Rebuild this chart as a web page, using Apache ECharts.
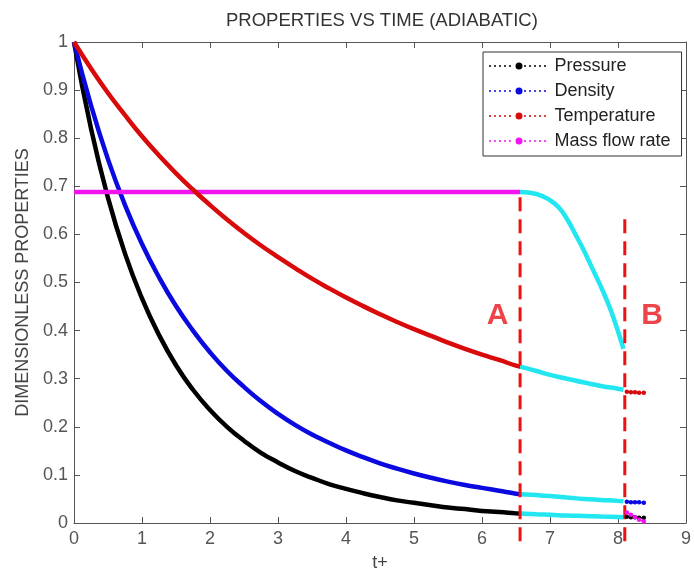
<!DOCTYPE html>
<html>
<head>
<meta charset="utf-8">
<script src="https://cdn.jsdelivr.net/npm/echarts@6/dist/echarts.min.js"></script>
<style>
html,body{margin:0;padding:0;background:#fff;}
#chart{width:694px;height:577px;}
</style>
</head>
<body>
<div id="chart"></div>
<script>
// ---- data ----
const xTicks = [0,1,2,3,4,5,6,7,8,9];
const yTicks = [0,0.1,0.2,0.3,0.4,0.5,0.6,0.7,0.8,0.9,1];

// phase 1 (choked, until A)
const tPhase1 = [0,0.25,0.5,0.75,1,1.25,1.5,1.75,2,2.25,2.5,2.75,3,3.25,3.5,3.75,4,4.25,4.5,4.75,5,5.25,5.5,5.75,6,6.25,6.5,6.56];
const pressure1 = [1,0.820,0.676,0.560,0.467,0.391,0.328,0.277,0.235,0.200,0.171,0.146,0.126,0.108,0.094,0.081,0.071,0.062,0.054,0.047,0.042,0.037,0.032,0.029,0.025,0.023,0.020,0.0196];
const density1 = [1,0.868,0.756,0.661,0.580,0.511,0.451,0.400,0.355,0.316,0.283,0.253,0.227,0.204,0.184,0.167,0.151,0.137,0.124,0.113,0.103,0.094,0.086,0.079,0.073,0.067,0.061,0.060];
const temperature1 = [1,0.945,0.894,0.848,0.804,0.764,0.727,0.693,0.661,0.631,0.603,0.577,0.553,0.530,0.508,0.488,0.469,0.451,0.434,0.418,0.403,0.389,0.375,0.362,0.350,0.339,0.327,0.325];
const tMassFlow1 = [0,6.56];
const massFlow1 = [0.688,0.688];

// phase 2 (A to B, cyan)
const tPhase2 = [6.56,6.8,7.0,7.25,7.5,7.75,8.0,8.08];
const pressure2 = [0.0196,0.018,0.017,0.0155,0.0145,0.0135,0.0125,0.012];
const density2 = [0.060,0.058,0.056,0.053,0.050,0.048,0.046,0.045];
const temperature2 = [0.325,0.316,0.308,0.300,0.292,0.285,0.279,0.277];
const tMassFlow2 = [6.56,6.8,7.0,7.13,7.25,7.37,7.5,7.61,7.73,7.85,7.95,8.05,8.08];
const massFlow2 = [0.688,0.684,0.671,0.656,0.632,0.601,0.566,0.533,0.497,0.458,0.42,0.376,0.362];

// phase 3 (after B)
const tPhase3 = [8.13,8.19,8.25,8.31,8.38];
const pressure3 = [0.013,0.012,0.012,0.011,0.011];
const density3 = [0.044,0.043,0.043,0.043,0.042];
const temperature3 = [0.273,0.272,0.272,0.271,0.271];
const massFlow3 = [0.022,0.017,0.012,0.007,0.003];

// annotations
const lineA = {t:6.56, from:-0.038, to:0.69};
const lineB = {t:8.10, from:-0.038, to:0.645};
const labelA = {t:6.23, v:0.43, text:'A'};
const labelB = {t:8.5, v:0.43, text:'B'};

const seriesNames = ['Pressure','Density','Temperature','Mass flow rate'];
// ---------------------------------------

const FONT = "'Liberation Sans', Arial, Helvetica, sans-serif";
const C = {black:'#000000', blue:'#0a0ae0', red:'#d80a0a', magenta:'#f014f0', cyan:'#22e6f0', marker:'#ee1111'};

const zip = (xs, ys) => xs.map((x,i)=>[x, ys[i]]);

const legendIcon = (() => {
  let p = '';
  for (let x = 0; x <= 58; x += 5) {
    if (Math.abs(x + 1 - 30) < 6) continue;
    p += 'M' + x + ',3h2v1.5h-2z';
  }
  p += 'M26.5,3.75a3.5,3.5 0 1,0 7,0a3.5,3.5 0 1,0 -7,0z';
  return 'path://' + p;
})();

function mainLine(name, xs, ys, color, z) {
  return {name, type:'line', data:zip(xs,ys), symbol:'none', smooth:0.5,
    lineStyle:{color, width:4.5}, itemStyle:{color}, z:z||2, silent:true};
}
function cyanLine(xs, ys) {
  return {name:'_cyan', type:'line', data:zip(xs,ys), symbol:'none', smooth:0.5,
    lineStyle:{color:C.cyan, width:4.5}, itemStyle:{color:C.cyan}, z:2, silent:true};
}
function tailLine(xs, ys, color) {
  return {name:'_tail', type:'line', data:zip(xs,ys), symbol:'circle', symbolSize:4.5, showSymbol:true,
    lineStyle:{color, width:1.5}, itemStyle:{color}, z:5, silent:true, clip:false};
}
function dashLine(m) {
  return {name:'_dash', type:'line', data:[[m.t,m.from],[m.t,m.to]], symbol:'none', clip:false,
    lineStyle:{color:C.marker, width:3, type:[14,8]}, z:4, silent:true};
}
function letter(l) {
  return {name:'_lbl', type:'scatter', data:[[l.t,l.v]], symbolSize:0, silent:true, z:6,
    label:{show:true, position:'inside', formatter:l.text, color:'#e8141c', fontSize:30, fontWeight:'bold', fontFamily:FONT}};
}

const chart = echarts.init(document.getElementById('chart'), null, {renderer:'canvas'});
const axisColor = '#555';
const option = {
  animation:false,
  backgroundColor:'#ffffff',
  title:{text:'PROPERTIES VS TIME (ADIABATIC)', left:226, top:11, padding:0,
    textStyle:{fontFamily:FONT, fontSize:18.5, fontWeight:'normal', color:'#333'}},
  grid:{left:74, right:2, top:42, bottom:47, show:false},
  legend:{
    data:seriesNames.map(n=>({name:n, icon:legendIcon})),
    orient:'vertical', left:483, top:52, padding:[4,11,5,6], itemGap:5,
    itemWidth:60, itemHeight:7, selectedMode:false,
    backgroundColor:'#fff', borderColor:'#333', borderWidth:1,
    textStyle:{fontFamily:FONT, fontSize:18, color:'#222', lineHeight:20, padding:[0,0,0,2]}
  },
  xAxis:[
    {type:'value', min:xTicks[0], max:xTicks[xTicks.length-1], interval:1, position:'bottom',
      name:'t+', nameLocation:'middle', nameGap:31,
      nameTextStyle:{fontFamily:FONT, fontSize:18, color:'#444'},
      axisLine:{show:true, lineStyle:{color:axisColor, width:1}},
      axisTick:{show:true, inside:true, length:6, lineStyle:{color:axisColor}},
      axisLabel:{margin:7, fontFamily:FONT, fontSize:18, color:'#555'},
      splitLine:{show:false}},
    {type:'value', min:xTicks[0], max:xTicks[xTicks.length-1], interval:1, position:'top',
      axisLine:{show:true, onZero:false, lineStyle:{color:axisColor, width:1}},
      axisTick:{show:true, inside:true, length:6, lineStyle:{color:axisColor}},
      axisLabel:{show:false}, splitLine:{show:false}}
  ],
  yAxis:[
    {type:'value', min:yTicks[0], max:yTicks[yTicks.length-1], interval:0.1, position:'left',
      name:'DIMENSIONLESS PROPERTIES', nameLocation:'middle', nameGap:41, nameRotate:90,
      nameTextStyle:{fontFamily:FONT, fontSize:18, color:'#444'},
      axisLine:{show:true, lineStyle:{color:axisColor, width:1}},
      axisTick:{show:true, inside:true, length:6, lineStyle:{color:axisColor}},
      axisLabel:{margin:6, fontFamily:FONT, fontSize:18, color:'#555',
        formatter:v=>String(Math.round(v*10)/10)},
      splitLine:{show:false}},
    {type:'value', min:yTicks[0], max:yTicks[yTicks.length-1], interval:0.1, position:'right',
      axisLine:{show:true, onZero:false, lineStyle:{color:axisColor, width:1}},
      axisTick:{show:true, inside:true, length:6, lineStyle:{color:axisColor}},
      axisLabel:{show:false}, splitLine:{show:false}}
  ],
  series:[
    cyanLine(tPhase2, pressure2),
    cyanLine(tPhase2, density2),
    cyanLine(tPhase2, temperature2),
    cyanLine(tMassFlow2, massFlow2),
    mainLine(seriesNames[0], tPhase1, pressure1, C.black),
    mainLine(seriesNames[1], tPhase1, density1, C.blue),
    mainLine(seriesNames[3], tMassFlow1, massFlow1, C.magenta),
    mainLine(seriesNames[2], tPhase1, temperature1, C.red, 3),
    dashLine(lineA),
    dashLine(lineB),
    tailLine(tPhase3, temperature3, C.red),
    tailLine(tPhase3, density3, C.blue),
    tailLine(tPhase3, pressure3, C.black),
    tailLine(tPhase3, massFlow3, C.magenta),
    letter(labelA),
    letter(labelB)
  ]
};
chart.setOption(option);
</script>
</body>
</html>
